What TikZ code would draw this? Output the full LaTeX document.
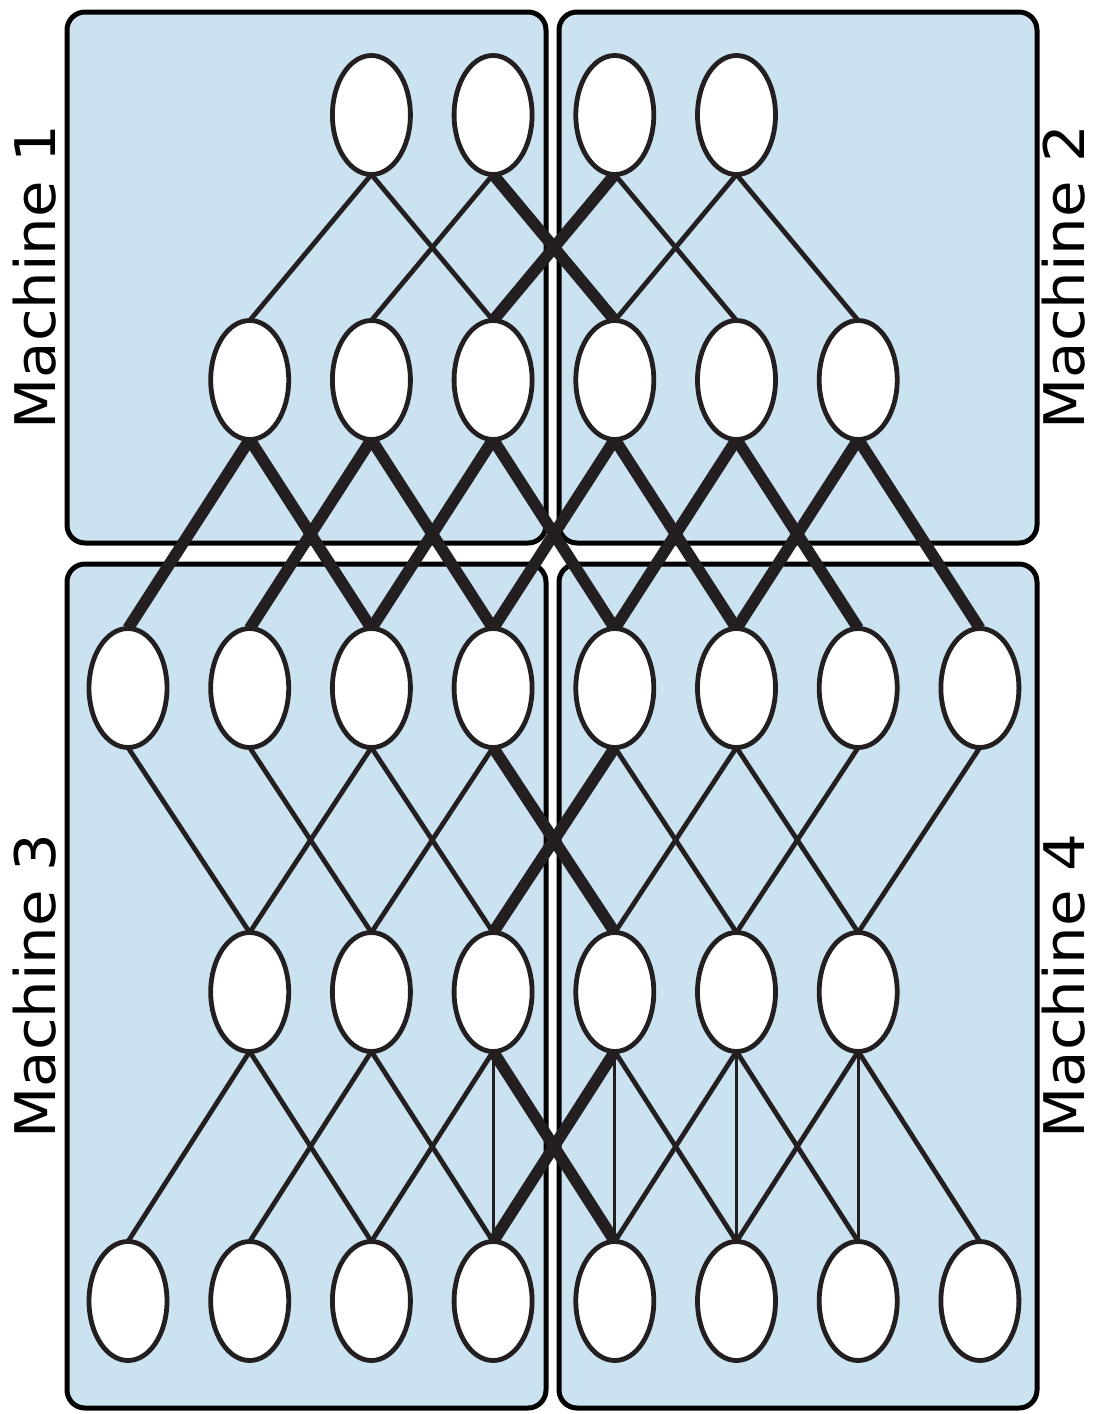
\documentclass[tikz,border=0pt]{standalone}
\usepackage{fontspec}
\setmainfont{DejaVu Sans}
\newfontfamily\labfont[FakeStretch=1.06]{DejaVu Sans}
\usetikzlibrary{shapes.geometric}
\definecolor{boxfill}{RGB}{203,226,240}
\definecolor{ink}{RGB}{35,31,32}
\pgfdeclarelayer{boxlayer}
\pgfdeclarelayer{edgelayer}
\pgfsetlayers{boxlayer,edgelayer,main}
\begin{document}
\begin{tikzpicture}[x=0.5pt,y=-0.5pt,
  machine/.style={draw=black, line width=2.5pt, fill=boxfill, rounded corners=9pt},
  unit/.style={ellipse, draw=ink, line width=2.4pt, fill=white, minimum width=39pt, minimum height=59.5pt, inner sep=0pt, outer sep=0pt},
  lnk/.style={draw=ink, line width=2.4pt},
  heavy/.style={draw=ink, line width=5.8pt},
  vert/.style={draw=ink, line width=1.5pt},
  lab/.style={rotate=90, font=\labfont\fontsize{28}{33}\selectfont, text=black, inner sep=0pt}]
\useasboundingbox (0,0) rectangle (1097,1414);
% machines
\begin{pgfonlayer}{boxlayer}
\fill[white] (0,0) rectangle (1097,1414);
\draw[machine] (67,12) rectangle (546,543);
\draw[machine] (559,12) rectangle (1037,543);
\draw[machine] (67,564) rectangle (546,1408);
\draw[machine] (559,564) rectangle (1037,1408);
\end{pgfonlayer}
% units
\foreach \i in {3,...,6} \node[unit] (a\i) at ({128+121.7*(\i-1)},115) {};
\foreach \i in {2,...,7} \node[unit] (b\i) at ({128+121.7*(\i-1)},380) {};
\foreach \i in {1,...,8} \node[unit] (c\i) at ({128+121.7*(\i-1)},688) {};
\foreach \i in {2,...,7} \node[unit] (d\i) at ({128+121.7*(\i-1)},992) {};
\foreach \i in {1,...,8} \node[unit] (e\i) at ({128+121.7*(\i-1)},1301) {};
% connections
\begin{pgfonlayer}{edgelayer}
% layer 1 -> 2
\draw[lnk] (a3.south) -- (b2.north);
\draw[lnk] (a3.south) -- (b4.north);
\draw[lnk] (a4.south) -- (b3.north);
\draw[lnk] (a5.south) -- (b6.north);
\draw[lnk] (a6.south) -- (b5.north);
\draw[lnk] (a6.south) -- (b7.north);
% layer 3 -> 4
\draw[lnk] (c1.south) -- (d2.north);
\draw[lnk] (c2.south) -- (d3.north);
\draw[lnk] (c3.south) -- (d2.north);
\draw[lnk] (c3.south) -- (d4.north);
\draw[lnk] (c4.south) -- (d3.north);
\draw[lnk] (c5.south) -- (d6.north);
\draw[lnk] (c6.south) -- (d5.north);
\draw[lnk] (c6.south) -- (d7.north);
\draw[lnk] (c7.south) -- (d6.north);
\draw[lnk] (c8.south) -- (d7.north);
% layer 4 -> 5
\draw[lnk] (d2.south) -- (e1.north);
\draw[lnk] (d2.south) -- (e3.north);
\draw[lnk] (d3.south) -- (e2.north);
\draw[lnk] (d3.south) -- (e4.north);
\draw[lnk] (d4.south) -- (e3.north);
\draw[lnk] (d5.south) -- (e6.north);
\draw[lnk] (d6.south) -- (e5.north);
\draw[lnk] (d6.south) -- (e7.north);
\draw[lnk] (d7.south) -- (e6.north);
\draw[lnk] (d7.south) -- (e8.north);
\foreach \i in {4,...,7} \draw[vert] (d\i.south) -- (e\i.north);
% heavy links
\draw[heavy] (a4.south) -- (b5.north);
\draw[heavy] (a5.south) -- (b4.north);
\foreach \i in {2,...,7} {
  \pgfmathtruncatemacro{\lo}{\i-1}
  \pgfmathtruncatemacro{\hi}{\i+1}
  \draw[heavy] (b\i.south) -- (c\lo.north);
  \draw[heavy] (b\i.south) -- (c\hi.north);
}
\draw[heavy] (c4.south) -- (d5.north);
\draw[heavy] (c5.south) -- (d4.north);
\draw[heavy] (d4.south) -- (e5.north);
\draw[heavy] (d5.south) -- (e4.north);
\end{pgfonlayer}
% labels
\node[lab] (m1) at (35,277) {Machine 1};
\node[lab] (m2) at (1064,277) {Machine 2};
\node[lab] (m3) at (35,986) {Machine 3};
\node[lab] (m4) at (1064,986) {Machine 4};
\end{tikzpicture}
\end{document}
